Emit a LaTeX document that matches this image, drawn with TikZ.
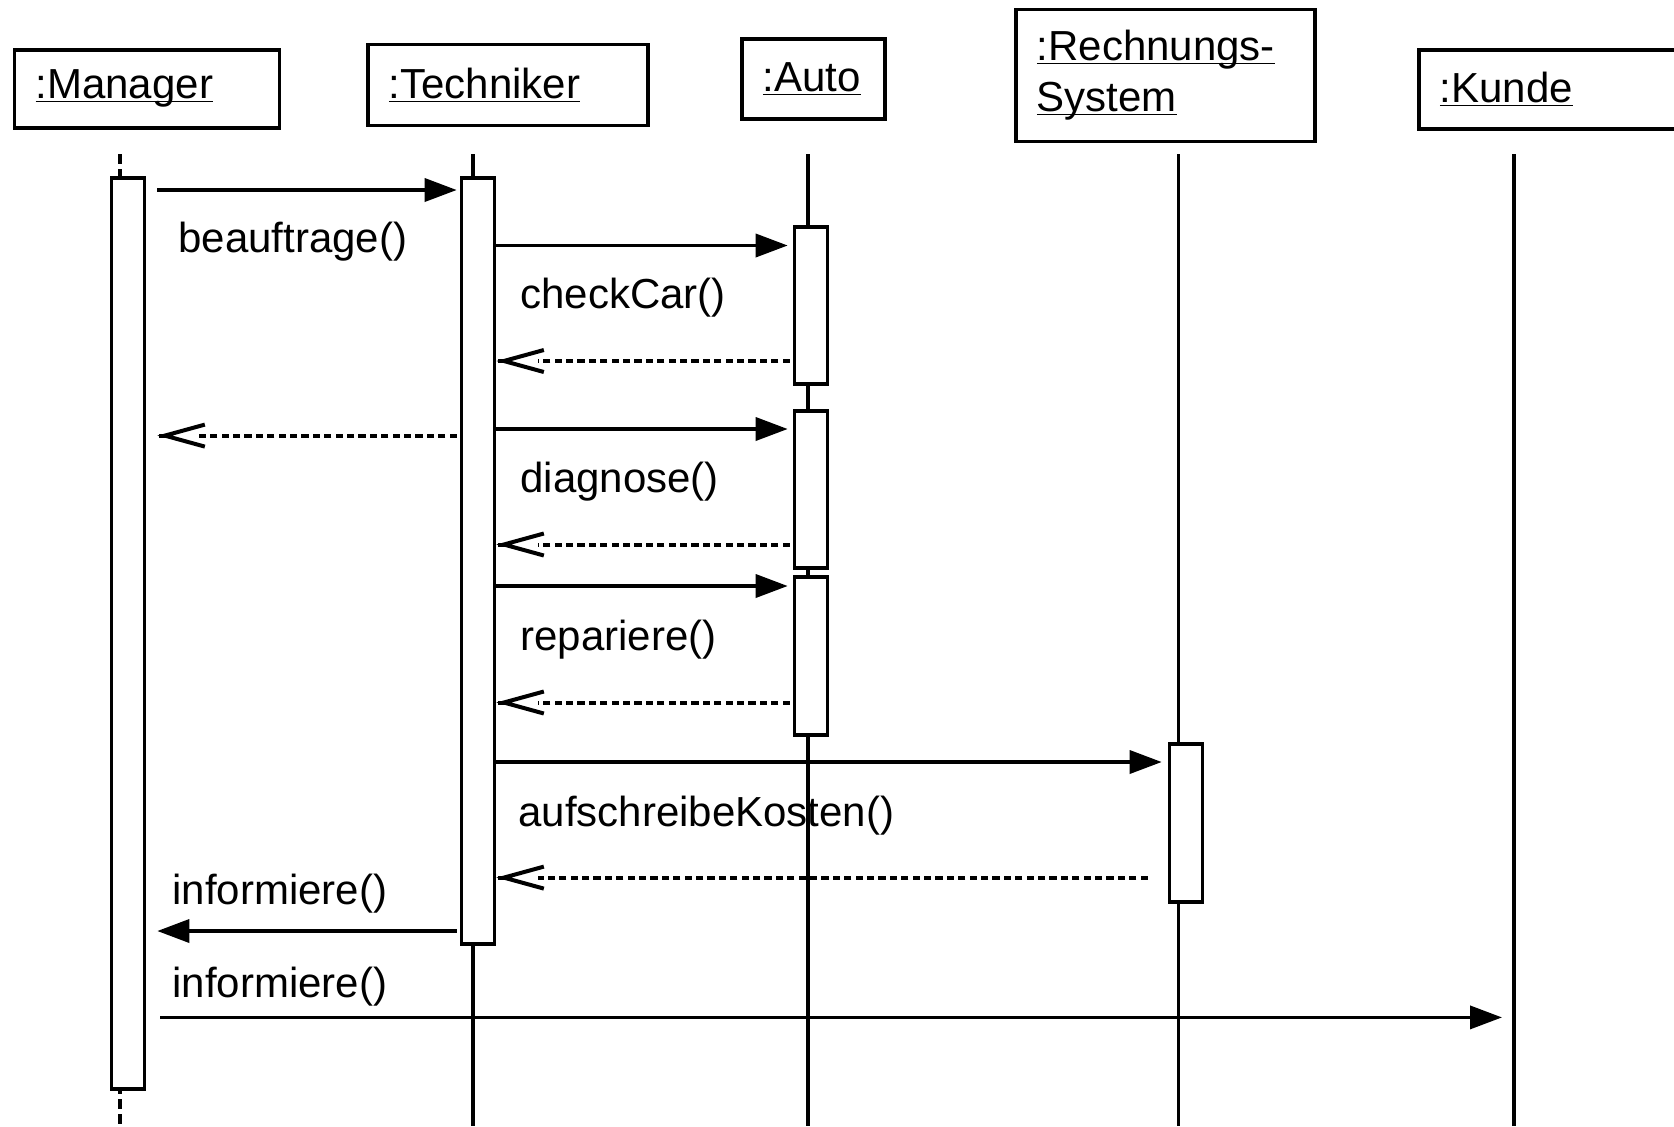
\documentclass[tikz,border=0pt]{standalone}
\usepackage{fontspec}
\setmainfont{Liberation Sans}
\usetikzlibrary{positioning,arrows.meta,calc}

\tikzset{
  obj/.style={draw, line width=1.8pt, anchor=north west, align=left,
    inner xsep=10.5pt, inner ysep=0pt, font=\fontsize{21}{25.5}\selectfont},
  bar/.style={draw, line width=1.8pt, fill=white, anchor=north,
    minimum width=16.5pt, inner sep=0pt},
  life/.style={line width=1.6pt},
  call/.style={line width=1.8pt, -{Triangle[length=16pt,width=11.5pt]}},
  reply/.style={line width=2pt, dash pattern=on 3.6pt off 2.1pt},
  replytip/.style={line width=2pt,
    -{Straight Barb[length=20pt,width=11pt,line width=2pt]}},
  msg/.style={anchor=west, inner sep=0pt, font=\fontsize{21}{25.5}\selectfont}
}
\newcommand{\uname}[1]{\underline{\smash{#1}}\vphantom{#1}}
% dashed answer with an open tip, #2 = from, #3 = to
\newcommand{\answer}[3][]{%
  \draw[reply,#1] (#2) -- ($(#3)!21pt!(#2)$);
  \draw[replytip] ($(#3)!1pt!(#2)$) -- (#3);}

\begin{document}
\begin{tikzpicture}[x=0.5pt, y=-0.5pt]
\useasboundingbox (0,0) rectangle (1674,1126);
\clip (0,0) rectangle (1674,1126);

% objects
\node[obj, text width=111.5pt, minimum height=39pt] (manager) at (12.8,48) {\uname{:Manager}};
\node[obj, text width=119pt, minimum height=40.5pt] (techniker) at (366,42.7) {\uname{:Techniker}};
\node[obj, text width=50.5pt, minimum height=40pt] (auto) at (740,37) {\uname{:Auto}};
\node[obj, text width=128.5pt, minimum height=66pt] (rechnung) at (1014,7.5) {\uname{:Rechnungs-}\\\uname{System}};
\node[obj, text width=129pt, minimum height=39.5pt] (kunde) at (1417,48) {\uname{:Kunde}};

% lifelines
\draw[life, dash pattern=on 5pt off 2.5pt] (120,154) -- (120,1126);
\draw[life] (473,154) -- (473,1126);
\draw[life] (808,154) -- (808,1126);
\draw[life] (1178.6,154) -- (1178.6,1126);
\draw[life] (1514,154) -- (1514,1126);
\coordinate (kundeL) at (1514,154);

% activations
\node[bar, minimum height=455.5pt] (manA) at (128,176) {};
\node[bar, minimum height=383pt] (techA) at (478,176) {};
\node[bar, minimum height=78.5pt] (autoA) at (811,225) {};
\node[bar, minimum height=78.5pt] (autoB) at (811,409) {};
\node[bar, minimum height=79pt] (autoC) at (811,575) {};
\node[bar, minimum height=79pt] (rechA) at (1186,742) {};

% message rows
\coordinate (r1) at (0,190);
\coordinate (r2) at (0,245.5);
\coordinate (r3) at (0,361);
\coordinate (r4) at (0,429);
\coordinate (r5) at (0,435.6);
\coordinate (r6) at (0,544.5);
\coordinate (r7) at (0,586);
\coordinate (r8) at (0,702.5);
\coordinate (r9) at (0,762);
\coordinate (r10) at (0,877.6);
\coordinate (r11) at (0,931);
\coordinate (r12) at (0,1017.4);
\coordinate (manT) at ($(manA.east |- r5)+(11,0)$);

\draw[call] ($(manA.east |- r1)+(11,0)$) -- ($(techA.west |- r1)+(-3,0)$);
\draw[call] (techA.east |- r2) -- ($(autoA.west |- r2)+(-5,0)$);
\answer[shorten <=1.5pt]{autoA.west |- r3}{techA.east |- r3}
\draw[call] (techA.east |- r4) -- ($(autoB.west |- r4)+(-5,0)$);
\answer[shorten <=1.5pt]{techA.west |- r5}{manT}
\answer[shorten <=1.5pt]{autoB.west |- r6}{techA.east |- r6}
\draw[call] (techA.east |- r7) -- ($(autoC.west |- r7)+(-5,0)$);
\answer[shorten <=1.5pt]{autoC.west |- r8}{techA.east |- r8}
\draw[call] (techA.east |- r9) -- ($(rechA.west |- r9)+(-6,0)$);
\answer[shorten <=10pt]{rechA.west |- r10}{techA.east |- r10}
\draw[call] ($(techA.west |- r11)+(-3,0)$) -- ($(manA.east |- r11)+(11,0)$);
\draw[call] ($(manA.east |- r12)+(14,0)$) -- ($(kundeL |- r12)+(-12,0)$);

% labels
\node[msg] (l1) at (178,241.5) {beauftrage()};
\node[msg] (l2) at (520,298) {checkCar()};
\node[msg] (l3) at (520,481.5) {diagnose()};
\node[msg] (l4) at (520,639.5) {repariere()};
\node[msg] (l5) at (518,815.5) {aufschreibeKosten()};
\node[msg] (l6) at (172,894) {informiere()};
\node[msg] (l7) at (172,987) {informiere()};
\end{tikzpicture}
\end{document}
